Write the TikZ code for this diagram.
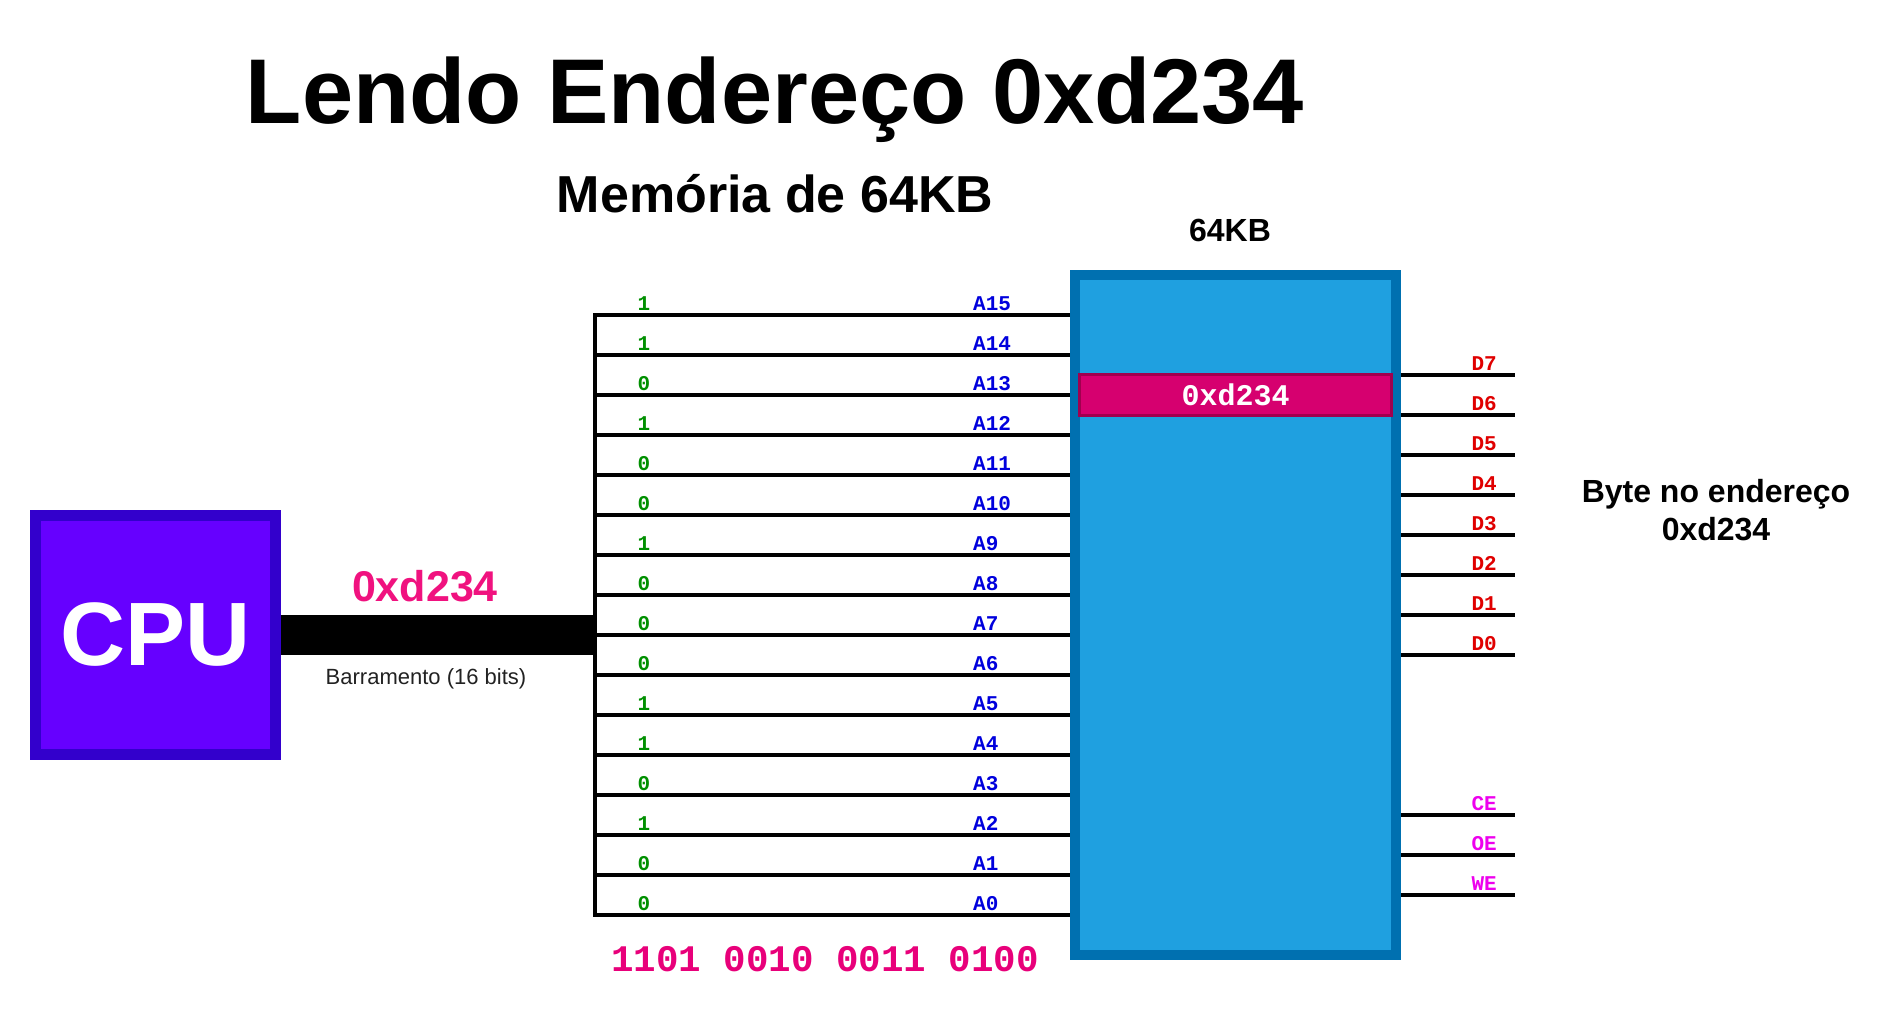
\documentclass[tikz,border=0pt]{standalone}
\usepackage{fontspec}
\setmainfont{Liberation Sans}
\newfontfamily\monofont{Liberation Mono}
\usetikzlibrary{shadows}
\definecolor{memfill}{HTML}{1FA0E0}
\definecolor{memborder}{HTML}{0070B0}
\definecolor{cpufill}{HTML}{6600FF}
\definecolor{cpuborder}{HTML}{3300CC}
\definecolor{rowfill}{HTML}{D6006F}
\definecolor{rowborder}{HTML}{A0004F}
\definecolor{hexpink}{HTML}{F0127F}
\definecolor{binpink}{HTML}{E8007A}
\definecolor{bitgreen}{HTML}{009000}
\definecolor{addrblue}{HTML}{0000DD}
\definecolor{datared}{HTML}{E00000}
\definecolor{ctlmag}{HTML}{EE00EE}
\definecolor{bustext}{HTML}{222222}
\begin{document}
\begin{tikzpicture}[x=1pt,y=-1pt,
  wire/.style={line width=3.5pt,black},
  pinlbl/.style={inner sep=0pt,font=\monofont\bfseries\fontsize{21}{24}\selectfont},
  bitlbl/.style={pinlbl,text=bitgreen},
  addrlbl/.style={pinlbl,text=addrblue},
  datalbl/.style={pinlbl,text=datared},
  ctllbl/.style={pinlbl,text=ctlmag},
  boxshadow/.style={drop shadow={opacity=0.25,shadow xshift=3pt,shadow yshift=-3pt}}
]
\useasboundingbox[fill=white] (0,0) rectangle (1892,1027);

% titles
\node[anchor=base,inner sep=0pt,font=\bfseries\fontsize{92}{110}\selectfont] (title) at (775,124) {Lendo Endereço 0xd234};
\node[anchor=base,inner sep=0pt,font=\bfseries\fontsize{52}{60}\selectfont] (subtitle) at (775,213) {Memória de 64KB};
\node[anchor=base,inner sep=0pt,font=\bfseries\fontsize{32}{38}\selectfont] (memsize) at (1230,241) {64KB};

% memory
\node[boxshadow,draw=memborder,fill=memfill,line width=10pt,minimum width=321pt,minimum height=680pt,inner sep=0pt] (mem) at (1235.5,615) {};
\node[draw=rowborder,fill=rowfill,line width=3pt,minimum width=312pt,minimum height=41pt,inner sep=0pt,text=white,font=\monofont\bfseries\fontsize{30}{34}\selectfont] (row) at (1235.5,395) {0xd234};

% CPU
\node[boxshadow,draw=cpuborder,fill=cpufill,line width=11pt,minimum width=240pt,minimum height=239pt,inner sep=0pt,text=white,font=\bfseries\fontsize{90}{100}\selectfont] (cpu) at (155.5,635) {CPU};

% bus
\coordinate (busend) at (595,635);
\draw[line width=40pt] (cpu.east) -- (busend);
\node[anchor=base,inner sep=0pt,text=hexpink,font=\bfseries\fontsize{43}{50}\selectfont] (buslbl) at (425,601) {0xd234};
\node[inner sep=0pt,text=bustext,font=\fontsize{22}{26}\selectfont] (busname) at (426,679) {Barramento (16 bits)};

% address lines
\coordinate (atop) at (595,313.25);
\coordinate (abot) at (595,916.75);
\draw[wire] (atop) -- (abot);
\foreach \i/\b in {15/1,14/1,13/0,12/1,11/0,10/0,9/1,8/0,7/0,6/0,5/1,4/1,3/0,2/1,1/0,0/0} {
  \pgfmathsetmacro\yy{915-40*\i}
  \coordinate (a\i) at (595,\yy);
  \draw[wire] (a\i) -- (a\i -| mem.west);
  \node[bitlbl,anchor=base] (bit\i) at (644,\yy-5) {\b};
  \node[addrlbl,anchor=base west] (al\i) at (973,\yy-5) {A\i};
}

% data lines
\foreach \k in {7,...,0} {
  \pgfmathsetmacro\yy{375+40*(7-\k)}
  \coordinate (d\k) at (1515,\yy);
  \draw[wire] (d\k -| mem.east) -- (d\k);
  \node[datalbl,anchor=base east] (dl\k) at (1497,\yy-5) {D\k};
}

% control lines
\foreach \n/\yy in {CE/815,OE/855,WE/895} {
  \coordinate (c\n) at (1515,\yy);
  \draw[wire] (c\n -| mem.east) -- (c\n);
  \node[ctllbl,anchor=base east] (cl\n) at (1497,\yy-5) {\n};
}

% byte label
\node[align=center,inner sep=0pt,font=\bfseries\fontsize{32}{38}\selectfont] (bytelbl) at (1716,510) {Byte no endereço\\0xd234};

% binary
\node[inner sep=0pt,text=binpink,font=\monofont\bfseries\fontsize{37.5}{42}\selectfont] (binary) at (825,959) {1101 0010 0011 0100};
\end{tikzpicture}
\end{document}
